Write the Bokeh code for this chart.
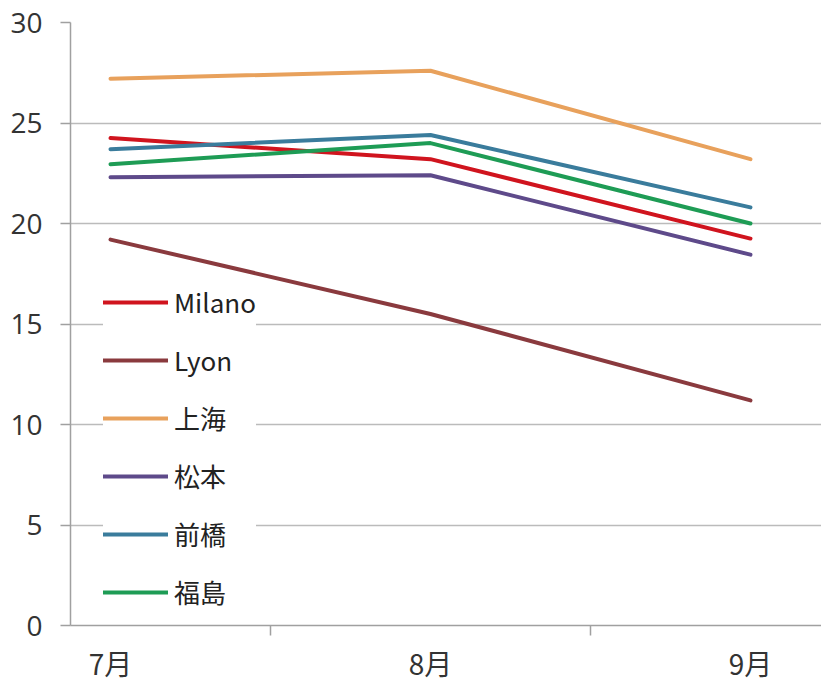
from bokeh.plotting import figure
from bokeh.models import FixedTicker, Legend, LegendItem, Range1d
from bokeh.embed import file_html
from bokeh.resources import INLINE

# Monthly mean temperatures (°C), July to September
months = ["7月", "8月", "9月"]
cities = ["Milano", "Lyon", "上海", "松本", "前橋", "福島"]
milano = [24.25, 23.2, 19.25]
lyon = [19.2, 15.5, 11.2]
shanghai = [27.2, 27.6, 23.2]
matsumoto = [22.3, 22.4, 18.45]
maebashi = [23.7, 24.4, 20.8]
fukushima = [22.95, 24.0, 20.0]
colors = ["#D0141E", "#8A3A3E", "#E8A15C", "#5E4A8A", "#3A7C9C", "#1E9C55"]
y_ticks = [0, 5, 10, 15, 20, 25, 30]

series = [milano, lyon, shanghai, matsumoto, maebashi, fukushima]
xs = list(range(len(months)))

p = figure(width=821, height=685, output_backend="svg", toolbar_location=None,
           x_range=Range1d(-0.125, 2.222), y_range=Range1d(0, 30),
           min_border_left=70, min_border_right=0, min_border_top=22,
           min_border_bottom=59)
p.outline_line_color = None
p.background_fill_color = "white"

items = []
for name, vals, col in zip(cities, series, colors):
    r = p.line(xs, vals, line_color=col, line_width=4, line_join="round",
               line_cap="round")
    items.append(LegendItem(label=name, renderers=[r]))

# y axis
p.yaxis.ticker = FixedTicker(ticks=y_ticks)
p.yaxis.axis_line_color = "#A0A0A0"
p.yaxis.axis_line_width = 1.5
p.yaxis.major_tick_line_color = "#A0A0A0"
p.yaxis.major_tick_line_width = 1.5
p.yaxis.major_tick_out = 10
p.yaxis.major_tick_in = 0
p.yaxis.minor_tick_line_color = None
p.yaxis.major_label_text_font = "Open Sans"
p.yaxis.major_label_text_font_size = "28px"
p.yaxis.major_label_text_color = "#333333"
p.yaxis.major_label_standoff = 18

# x axis: labels at month centres, tick marks between months
p.xaxis.ticker = FixedTicker(ticks=xs, minor_ticks=[0.5, 1.5])
p.xaxis.major_label_overrides = {i: m for i, m in enumerate(months)}
p.xaxis.axis_line_color = "#A0A0A0"
p.xaxis.axis_line_width = 1.5
p.xaxis.major_tick_line_color = None
p.xaxis.minor_tick_line_color = "#A0A0A0"
p.xaxis.minor_tick_line_width = 1.5
p.xaxis.minor_tick_out = 10
p.xaxis.minor_tick_in = 0
p.xaxis.major_label_text_font = "Noto Sans CJK JP"
p.xaxis.major_label_text_font_size = "28px"
p.xaxis.major_label_text_color = "#333333"
p.xaxis.major_label_standoff = 7

p.xgrid.grid_line_color = None
p.ygrid.ticker = FixedTicker(ticks=y_ticks)
p.ygrid.grid_line_color = "#BBBBBB"
p.ygrid.grid_line_width = 1.5

legend = Legend(items=items, location=(33, 15))
legend.background_fill_color = "white"
legend.background_fill_alpha = 1.0
legend.border_line_color = None
legend.padding = 15
legend.margin = 0
legend.spacing = 21
legend.glyph_width = 65
legend.glyph_height = 36
legend.label_height = 36
legend.label_standoff = 6
legend.label_text_font = "Noto Sans CJK JP"
legend.label_text_font_size = "26px"
legend.label_text_color = "#222222"
p.add_layout(legend, "center")

open("out.html", "w").write(file_html(p, INLINE))
